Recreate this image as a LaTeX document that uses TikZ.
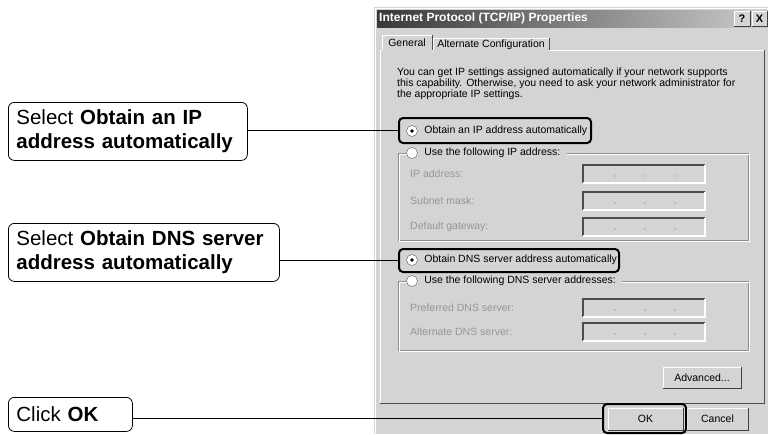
\documentclass[tikz,border=0pt]{standalone}
\usepackage{fontspec}
\setmainfont{Liberation Sans}
\usepackage{tikz}

\definecolor{winbg}{RGB}{212,212,212}
\definecolor{dimgray}{RGB}{150,150,150}

% 3D boxes of the dialog, corners given as x1,y1,x2,y2
\newcommand\raisedrect[4]{%
  \fill[winbg] (#1,#2) rectangle (#3,#4);
  \draw[white] (#1,#4) -- (#1,#2) -- (#3,#2);
  \draw[black!75] (#1,#4) -- (#3,#4) -- (#3,#2);
}
\newcommand\sunkenrect[4]{%
  \fill[winbg] (#1,#2) rectangle (#3,#4);
  \draw[black!70, line width=1.2pt] (#1,#4) -- (#1,#2) -- (#3,#2);
  \draw[white, line width=1.2pt] (#1,#4) -- (#3,#4) -- (#3,#2);
}

\begin{document}
\begin{tikzpicture}[x=1pt,y=-1pt]
  \tikzset{
    callout/.style={draw, rounded corners=6pt, line width=0.8pt, anchor=north west,
      align=left, inner xsep=8pt, inner ysep=0pt, font=\fontsize{20.5}{24.5}\selectfont},
    hilite/.style={draw, rounded corners=4pt, line width=2pt, inner sep=0pt},
    link/.style={line width=1.8pt},
    dlg/.style={font=\fontsize{10.5}{11}\selectfont, inner sep=0pt},
    lbl/.style={dlg, anchor=west, fill=winbg, inner xsep=6.5pt, inner ysep=1pt},
    dim/.style={dlg, anchor=west, text=dimgray},
    radio/.style={circle, draw=black!65, fill=white, minimum size=11pt, inner sep=0pt}
  }
  \useasboundingbox (0,0) rectangle (768,434);

  % window and title bar
  \fill[winbg] (374,7) rectangle (768,434);
  \draw[white] (375,434) -- (375,8) -- (768,8);
  \shade[left color=black!78, right color=black!20] (377,10) rectangle (768,27);
  \node[dlg, anchor=west, text=white, font=\bfseries\fontsize{12}{12}\selectfont] (title) at (379,18.5) {Internet Protocol (TCP/IP) Properties};
  \raisedrect{734}{11}{750}{26}
  \node[dlg, font=\bfseries\fontsize{11}{11}\selectfont] (help) at (742,18.5) {?};
  \raisedrect{752}{11}{767}{26}
  \node[dlg, font=\bfseries\fontsize{11}{11}\selectfont] (close) at (759.5,18.5) {X};

  % tab panel
  \draw[white] (380,403) -- (380,50) -- (764,50);
  \draw[black!70] (380,403) -- (764,403) -- (764,50);
  \fill[winbg] (433,38) rectangle (549,50.5);
  \draw[white] (433,50) -- (433,38) -- (549,38);
  \draw[black!70] (549,38) -- (549,50);
  \fill[winbg] (382,35) rectangle (432,51);
  \draw[white] (382,50) -- (382,35) -- (432,35);
  \draw[black!70] (432,35) -- (432,50);
  \node[dlg] (gentab) at (407,43) {General};
  \node[dlg] (alttab) at (491,44.5) {Alternate Configuration};

  \node[dlg, anchor=north west, align=left] (intro) at (397,67.5) {You can get IP settings assigned automatically if your network supports\\this capability. Otherwise, you need to ask your network administrator for\\the appropriate IP settings.};

  % IP address group
  \draw[black!45] (398,153) rectangle (748,240);
  \draw[white] (399,154) rectangle (749,241);
  \node[radio] (autoip) at (412,131) {};
  \fill (autoip.center) circle (1.8);
  \node[lbl] (autoiptxt) at (autoip.east) {Obtain an IP address automatically};
  \node[radio] (fixip) at (412,153) {};
  \node[lbl] (fixiptxt) at (fixip.east) {Use the following IP address:};

  % DNS group
  \draw[black!45] (398,281) rectangle (748,350);
  \draw[white] (399,282) rectangle (749,351);
  \node[radio] (autodns) at (412,260) {};
  \fill (autodns.center) circle (1.8);
  \node[lbl] (autodnstxt) at (autodns.east) {Obtain DNS server address automatically};
  \node[radio] (fixdns) at (412,281) {};
  \node[lbl] (fixdnstxt) at (fixdns.east) {Use the following DNS server addresses:};

  % disabled fields
  \foreach \fy/\fname [count=\i] in {174/IP address:, 201/Subnet mask:, 227/Default gateway:, 308/Preferred DNS server:, 332/Alternate DNS server:} {
    \node[dim] (field\i) at (410,\fy) {\fname};
    \sunkenrect{583}{\fy-9}{705}{\fy+9}
    \foreach \dx in {615,645,675}
      \fill[black!55] (\dx,\fy+2) circle (0.7);
  }

  % buttons
  \raisedrect{663}{367}{741}{388}
  \node[dlg] (advbtn) at (702,377.5) {Advanced...};
  \raisedrect{608}{408}{683}{430}
  \node[dlg] (okbtn) at (645.5,419) {OK};
  \raisedrect{687}{408}{748}{430}
  \node[dlg] (cancelbtn) at (717.5,419) {Cancel};

  % highlights
  \node[hilite, minimum width=192pt, minimum height=25pt] (hlip) at (495,130.5) {};
  \node[hilite, minimum width=220pt, minimum height=23pt] (hldns) at (509,260.5) {};
  \node[hilite, minimum width=83pt, minimum height=29pt] (hlok) at (644.5,418.5) {};

  % callouts
  \node[callout, text width=223pt, minimum height=58pt] (selip) at (8,102) {Select \textbf{Obtain an IP}\\\textbf{address automatically}};
  \node[callout, text width=255pt, minimum height=58pt] (seldns) at (8,223) {Select \textbf{Obtain DNS server}\\\textbf{address automatically}};
  \node[callout, text width=108pt, minimum height=34pt] (clickok) at (8,397) {Click \textbf{OK}};

  \draw[link] (hlip.west -| selip.east) -- (hlip.west);
  \draw[link] (hldns.west -| seldns.east) -- (hldns.west);
  \draw[link] (hlok.west -| clickok.east) -- (hlok.west);
\end{tikzpicture}
\end{document}
